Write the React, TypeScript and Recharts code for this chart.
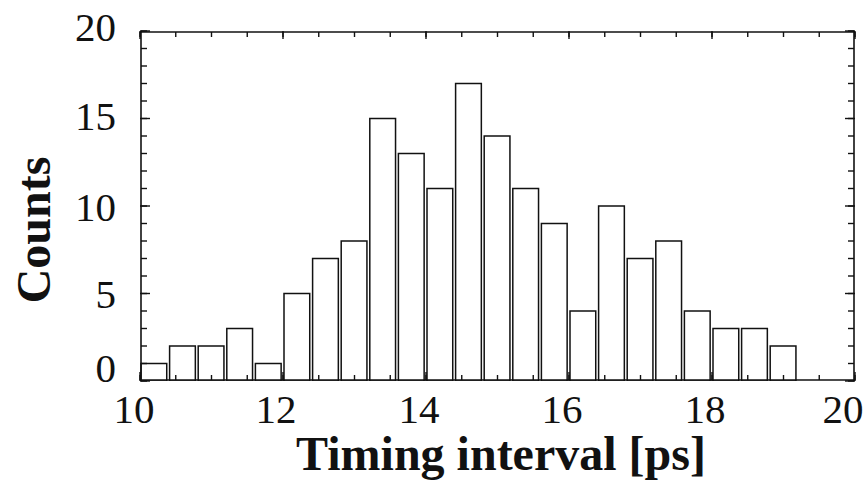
import { ComposedChart, Bar, XAxis, YAxis, Label } from "recharts";

// histogram bins (left edges), bin width 0.4 ps
const binStarts = [
  10.0, 10.4, 10.8, 11.2, 11.6, 12.0, 12.4, 12.8, 13.2, 13.6, 14.0, 14.4,
  14.8, 15.2, 15.6, 16.0, 16.4, 16.8, 17.2, 17.6, 18.0, 18.4, 18.8,
];
const counts = [1, 2, 2, 3, 1, 5, 7, 8, 15, 13, 11, 17, 14, 11, 9, 4, 10, 7, 8, 4, 3, 3, 2];
const binWidth = 0.4;

const xTicks = [10, 12, 14, 16, 18, 20];
const xMinorTicks = [
  10, 10.5, 11, 11.5, 12, 12.5, 13, 13.5, 14, 14.5, 15, 15.5, 16, 16.5, 17, 17.5,
  18, 18.5, 19, 19.5, 20,
];
const yTicks = [0, 5, 10, 15, 20];
const yMinorTicks = [0, 1, 2, 3, 4, 5, 6, 7, 8, 9, 10, 11, 12, 13, 14, 15, 16, 17, 18, 19, 20];

const data = binStarts.map((s, i) => ({ center: s + binWidth / 2, count: counts[i] }));

const W = 867;
const H = 485;
const margin = { top: 31, right: 12, bottom: 0, left: 0 };
const yAxisW = 140;
const xAxisH = 104;
const plotW = W - margin.left - margin.right - yAxisW;

const FONT = "'Liberation Serif', 'Times New Roman', serif";
const INK = "#111";
const frame = { stroke: INK, strokeWidth: 1.6 };
const tl = { stroke: INK, strokeWidth: 1.4 };
const noLabel = () => <g />;

// small nudges so labels sit like the original frame labels
const xShift: Record<number, number> = { 10: -6, 20: -12 };
const yLift: Record<number, number> = { 0: -14, 15: -3, 20: -5 };

const XTick = ({ x, y, payload }: any) => (
  <text
    x={x + (xShift[payload.value] ?? -7)}
    y={y}
    dy="0.71em"
    textAnchor="middle"
    style={{ fontFamily: FONT, fontSize: 41, fill: INK }}
  >
    {payload.value}
  </text>
);

const YTick = ({ x, y, payload }: any) => (
  <text
    x={x}
    y={y + (yLift[payload.value] ?? 0)}
    dy="0.355em"
    textAnchor="end"
    style={{ fontFamily: FONT, fontSize: 41, fill: INK }}
  >
    {payload.value}
  </text>
);

export default function App() {
  return (
    <div style={{ width: W, height: H, background: "#fff" }}>
      <style>{`body{margin:0}`}</style>
      <ComposedChart width={W} height={H} data={data} margin={margin}>
        {/* labelled axes */}
        <XAxis
          xAxisId="x"
          type="number"
          dataKey="center"
          domain={[10, 20]}
          allowDataOverflow
          ticks={xTicks}
          interval={0}
          height={xAxisH}
          tickSize={0}
          tickMargin={13}
          axisLine={false}
          tickLine={false}
          tick={<XTick />}
        >
          <Label
            content={() => (
              <text
                x={501}
                y={470}
                textAnchor="middle"
                style={{ fontFamily: FONT, fontSize: 48, fontWeight: 700, fill: INK }}
              >
                Timing interval [ps]
              </text>
            )}
          />
        </XAxis>
        <YAxis
          yAxisId="y"
          type="number"
          domain={[0, 20]}
          allowDataOverflow
          ticks={yTicks}
          interval={0}
          width={yAxisW}
          tickSize={0}
          tickMargin={24}
          axisLine={false}
          tickLine={false}
          tick={<YTick />}
        >
          <Label
            content={() => (
              <text
                x={50}
                y={230}
                textAnchor="middle"
                transform="rotate(-90 50 230)"
                style={{ fontFamily: FONT, fontSize: 48, fontWeight: 700, fill: INK }}
              >
                Counts
              </text>
            )}
          />
        </YAxis>

        {/* frame with inward ticks */}
        <XAxis xAxisId="bMin" type="number" dataKey="center" domain={[10, 20]} allowDataOverflow orientation="bottom" mirror ticks={xMinorTicks} interval={0} tick={noLabel} tickSize={5} axisLine={frame} tickLine={tl} height={1} />
        <XAxis xAxisId="bMaj" type="number" dataKey="center" domain={[10, 20]} allowDataOverflow orientation="bottom" mirror ticks={xTicks} interval={0} tick={noLabel} tickSize={9} axisLine={false} tickLine={tl} height={1} />
        <XAxis xAxisId="tMin" type="number" dataKey="center" domain={[10, 20]} allowDataOverflow orientation="top" mirror ticks={xMinorTicks} interval={0} tick={noLabel} tickSize={5} axisLine={frame} tickLine={tl} height={1} />
        <XAxis xAxisId="tMaj" type="number" dataKey="center" domain={[10, 20]} allowDataOverflow orientation="top" mirror ticks={xTicks} interval={0} tick={noLabel} tickSize={8} axisLine={false} tickLine={tl} height={1} />
        <YAxis yAxisId="lMin" type="number" domain={[0, 20]} allowDataOverflow orientation="left" mirror ticks={yMinorTicks} interval={0} tick={noLabel} tickSize={6} axisLine={frame} tickLine={tl} width={1} />
        <YAxis yAxisId="lMaj" type="number" domain={[0, 20]} allowDataOverflow orientation="left" mirror ticks={yTicks} interval={0} tick={noLabel} tickSize={10} axisLine={false} tickLine={tl} width={1} />
        <YAxis yAxisId="rMin" type="number" domain={[0, 20]} allowDataOverflow orientation="right" mirror ticks={yMinorTicks} interval={0} tick={noLabel} tickSize={6} axisLine={frame} tickLine={tl} width={1} />
        <YAxis yAxisId="rMaj" type="number" domain={[0, 20]} allowDataOverflow orientation="right" mirror ticks={yTicks} interval={0} tick={noLabel} tickSize={10} axisLine={false} tickLine={tl} width={1} />

        <Bar
          xAxisId="x"
          yAxisId="y"
          dataKey="count"
          fill="#fff"
          stroke={INK}
          strokeWidth={1.5}
          barSize={(binWidth * plotW) / 10}
          isAnimationActive={false}
        />
      </ComposedChart>
    </div>
  );
}
